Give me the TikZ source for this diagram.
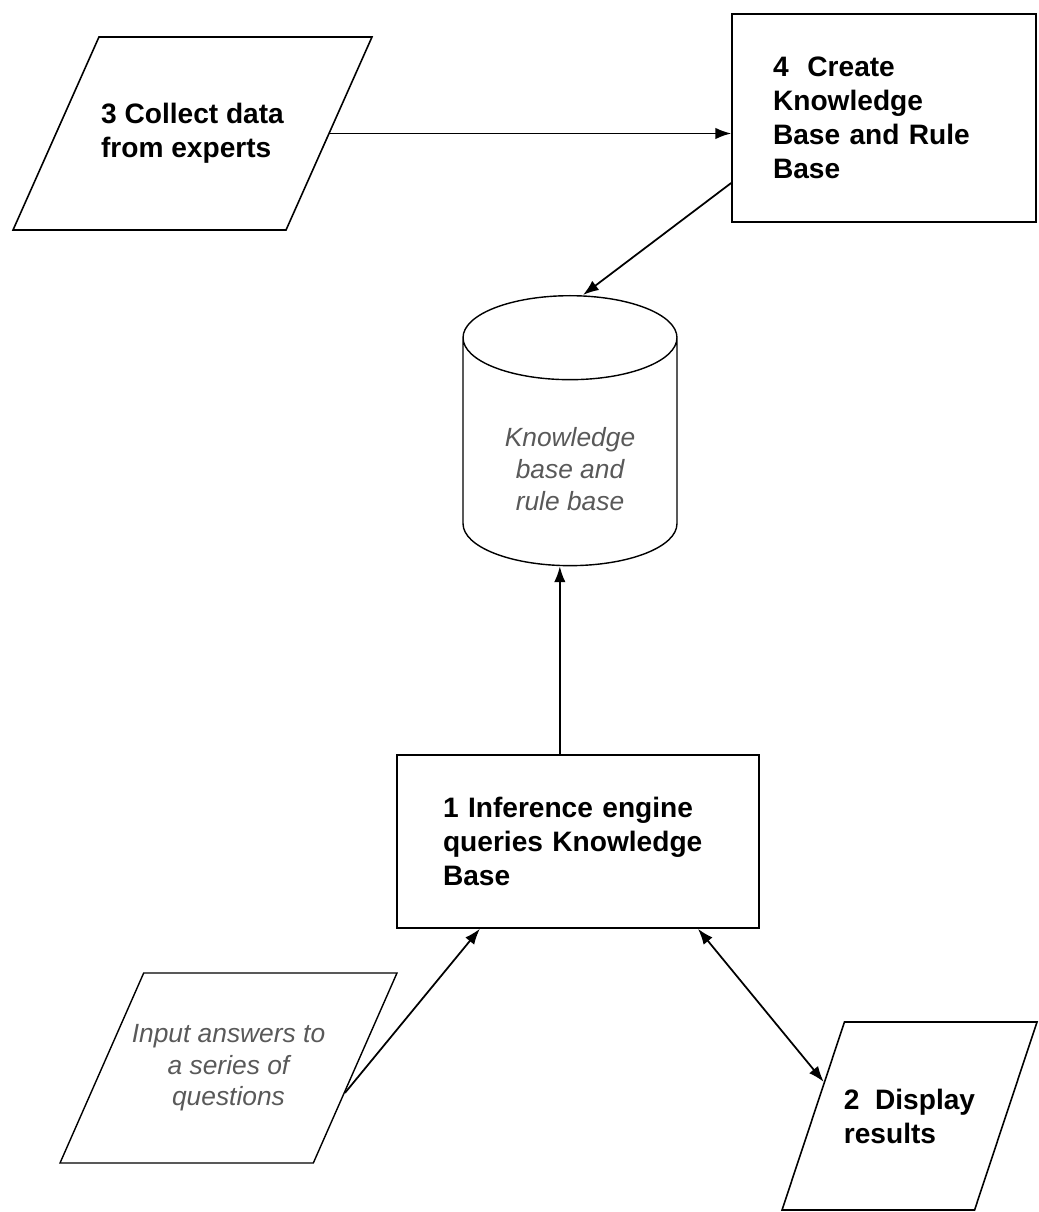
\documentclass[tikz,border=0pt]{standalone}
\usepackage{fontspec}
\setmainfont{Liberation Sans}
\usetikzlibrary{calc,shapes.geometric,arrows.meta}

\begin{document}
\begin{tikzpicture}[x=0.02cm,y=-0.02cm,
    box/.style={draw, line width=0.9pt, align=left, font=\fontsize{16}{19.4}\selectfont\bfseries},
    para/.style={draw, trapezium, trapezium stretches body, line width=0.8pt, inner xsep=-12pt},
    quiet/.style={align=center, font=\fontsize{15}{18}\selectfont\itshape, text=black!65},
    conn/.style={line width=1pt, -{Latex[length=9pt,width=6.5pt]}}]
  \useasboundingbox (0,0) rectangle (1038,1212);
      \node (s3) at (192.5,133.5) [para, box, trapezium left angle=65.7, trapezium right angle=114.3, minimum width=7.18cm, minimum height=3.86cm, inner ysep=37pt] {3 Collect data\\from experts};
      \node (s4) at (884,118) [box, text width=4.44cm, minimum width=6.08cm, minimum height=4.16cm] {4~ Create\\Knowledge\\Base and Rule\\Base};
      \node (kb) at (570,295) [draw, cylinder, shape border rotate=90, anchor=north, inner sep=10pt, aspect=2.39, line width=0.8pt, minimum width=4.28cm, minimum height=5.4cm] {};
      \node (kbt) at (570,469) [quiet] {Knowledge\\base and\\rule base};
      \node (s1) at (578,841.5) [box, text width=5.4cm, minimum width=7.24cm, minimum height=3.46cm] {1 Inference engine\\queries Knowledge\\Base};
      \node (in) at (228.5,1068) [para, quiet, trapezium left angle=65.9, trapezium right angle=114.1, minimum width=6.74cm, minimum height=3.8cm, inner ysep=28.5pt] {Input answers to\\a series of\\questions};
      \node (s2) at (909.5,1116) [para, box, trapezium left angle=71.5, trapezium right angle=108.5, minimum width=5.1cm, minimum height=3.76cm, inner ysep=37.5pt] {2~ Display\\results};
      \draw[conn] (s3.east) -- (s3.east -| s4.west);
      \draw[conn] ($(s4.south west)!0.19!(s4.north west)$) -- ([xshift=0.26cm]kb.north);
      \draw[conn] ($(s1.north west)!0.45!(s1.north east)$) coordinate (up) -- (up |- kb.south);
      \draw[conn] ($(in.bottom right corner)!0.37!(in.top right corner)$) -- ($(s1.south west)!0.23!(s1.south east)$);
      \draw[conn, {Latex[length=9pt,width=6.5pt]}-{Latex[length=9pt,width=6.5pt]}] ($(s1.south west)!0.83!(s1.south east)$) -- ($(s2.bottom left corner)!0.68!(s2.top left corner)$);
\end{tikzpicture}
\end{document}
